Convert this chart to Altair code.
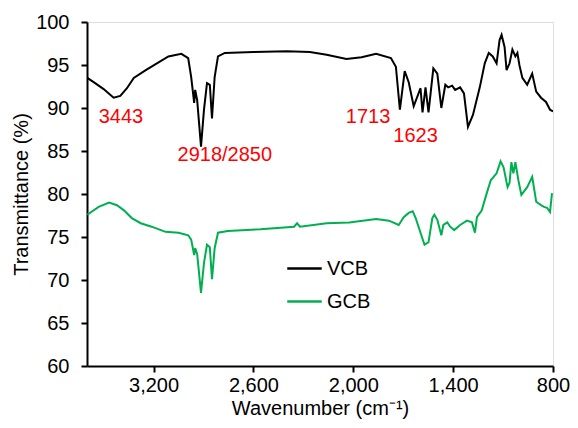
import altair as alt
import pandas as pd

vcb_w = [3598, 3560, 3500, 3440, 3400, 3360, 3319, 3247, 3170, 3111, 3033, 2992, 2974, 2956, 2950, 2938,
         2915, 2897, 2879, 2862, 2849, 2833, 2813, 2772, 2600, 2400, 2261, 2160, 2041, 1950, 1863, 1774,
         1744, 1720, 1691, 1667, 1637, 1596, 1584, 1566, 1548, 1519, 1495, 1471, 1447, 1430, 1406, 1388,
         1358, 1335, 1311, 1281, 1240, 1210, 1186, 1162, 1139, 1121, 1109, 1091, 1079, 1061, 1044, 1026,
         1014, 1002, 984, 955, 925, 901, 872, 842, 818, 800]
vcb_t = [93.5, 93.0, 92.2, 91.2, 91.4, 92.3, 93.5, 94.4, 95.3, 96.0, 96.3, 95.8, 93.6, 90.6, 92.1, 90.9,
         85.5, 89.8, 92.9, 92.7, 88.8, 93.6, 96.0, 96.4, 96.5, 96.6, 96.5, 96.2, 95.7, 95.9, 96.3, 95.8,
         94.8, 89.8, 94.3, 93.0, 90.2, 92.3, 89.5, 92.4, 89.5, 94.6, 94.0, 90.0, 92.7, 92.4, 92.6, 92.1,
         92.4, 91.7, 87.8, 89.2, 92.4, 95.2, 96.4, 96.0, 95.2, 97.9, 98.5, 97.1, 94.4, 95.2, 96.8, 96.0,
         96.4, 95.0, 93.5, 92.7, 94.0, 91.9, 91.2, 90.7, 89.8, 89.6]

gcb_w = [3598, 3530, 3467, 3420, 3378, 3331, 3277, 3212, 3128, 3050, 2992, 2974, 2956, 2950, 2938, 2915,
         2897, 2879, 2862, 2849, 2833, 2813, 2754, 2558, 2356, 2338, 2320, 2160, 2024, 1863, 1786, 1727,
         1697, 1667, 1643, 1625, 1596, 1572, 1548, 1525, 1513, 1495, 1471, 1459, 1435, 1418, 1394, 1358,
         1317, 1287, 1269, 1257, 1228, 1198, 1174, 1139, 1115, 1097, 1073, 1061, 1050, 1038, 1026, 1008,
         990, 955, 925, 901, 872, 854, 836, 818, 806]
gcb_t = [77.6, 78.5, 79.0, 78.7, 78.1, 77.2, 76.6, 76.2, 75.6, 75.5, 75.2, 74.7, 72.9, 73.7, 73.0, 68.5,
         72.0, 74.1, 73.8, 70.1, 73.7, 75.5, 75.7, 75.9, 76.2, 76.6, 76.2, 76.6, 76.7, 77.1, 76.9, 76.4,
         77.3, 77.8, 78.0, 77.2, 75.5, 74.1, 74.4, 77.2, 77.6, 77.0, 75.2, 76.4, 76.7, 76.2, 75.8, 76.4,
         76.9, 76.7, 75.5, 77.3, 78.1, 80.1, 81.6, 82.4, 83.8, 83.1, 80.8, 81.3, 83.7, 82.4, 83.7, 81.6,
         79.9, 80.8, 82.0, 79.1, 78.7, 78.5, 78.4, 77.9, 80.1]

series_names = ["VCB", "GCB"]
series_colors = ["#000000", "#00B050"]

ann_text = ["3443", "2918/2850", "1713", "1623"]
ann_w = [3396, 2772, 1911, 1626]
ann_t = [88.9, 84.5, 88.9, 86.7]

x_ticks = [3200, 2600, 2000, 1400, 800]
y_ticks = [60, 65, 70, 75, 80, 85, 90, 95, 100]

rows = []
for i, (w, t) in enumerate(zip(vcb_w, vcb_t)):
    rows.append({"series": "VCB", "w": w, "t": t, "order": i})
for i, (w, t) in enumerate(zip(gcb_w, gcb_t)):
    rows.append({"series": "GCB", "w": w, "t": t, "order": i})
df = pd.DataFrame(rows)
ann = pd.DataFrame({"label": ann_text, "w": ann_w, "t": ann_t})

FONT = "Liberation Sans"

xscale = alt.Scale(domain=[800, 3600], reverse=True, nice=False)
yscale = alt.Scale(domain=[60, 100], nice=False)

x_axis = alt.Axis(title="Wavenumber (cm⁻¹)", values=x_ticks, format=",.0f", grid=False,
                  labelFontSize=20, titleFontSize=20, labelColor="#000", titleColor="#000",
                  titleFontWeight="normal", domainColor="#000", domainWidth=2,
                  tickColor="#000", tickWidth=2, tickSize=6, labelPadding=3, titlePadding=3,
                  labelFont=FONT, titleFont=FONT, labelFlush=False, labelOverlap=False)
y_axis = alt.Axis(title="Transmittance (%)", values=y_ticks, grid=False,
                  labelFontSize=20, titleFontSize=20, labelColor="#000", titleColor="#000",
                  titleFontWeight="normal", domainColor="#000", domainWidth=2,
                  tickColor="#000", tickWidth=2, tickSize=6, labelPadding=12, titlePadding=4,
                  labelFont=FONT, titleFont=FONT, labelFlush=False, labelOverlap=False)

x_enc = alt.X("w:Q", scale=xscale, axis=x_axis)
y_enc = alt.Y("t:Q", scale=yscale, axis=y_axis)

lines = alt.Chart(df).mark_line(strokeWidth=2, clip=True).encode(
    x=x_enc,
    y=y_enc,
    color=alt.Color("series:N", scale=alt.Scale(domain=series_names, range=series_colors),
                    legend=alt.Legend(title=None, orient="none", legendX=199, legendY=228,
                                      symbolType="stroke", symbolSize=1190, symbolStrokeWidth=2.5,
                                      labelFontSize=20, labelFont=FONT, labelColor="#000",
                                      rowPadding=4, labelOffset=4)),
    order="order:Q",
)

texts = alt.Chart(ann).mark_text(color="#FF0000", fontSize=20, font=FONT).encode(
    x=x_enc,
    y=y_enc,
    text="label:N",
)

chart = alt.layer(lines, texts).properties(
    width=466, height=344,
    autosize=alt.AutoSizeParams(type="none"),
    padding={"left": 79, "top": 14, "right": 17, "bottom": 54},
).configure_view(stroke="#000", strokeWidth=2).configure(background="white")

chart.save("out.html", embed_options={"renderer": "svg", "actions": False})
